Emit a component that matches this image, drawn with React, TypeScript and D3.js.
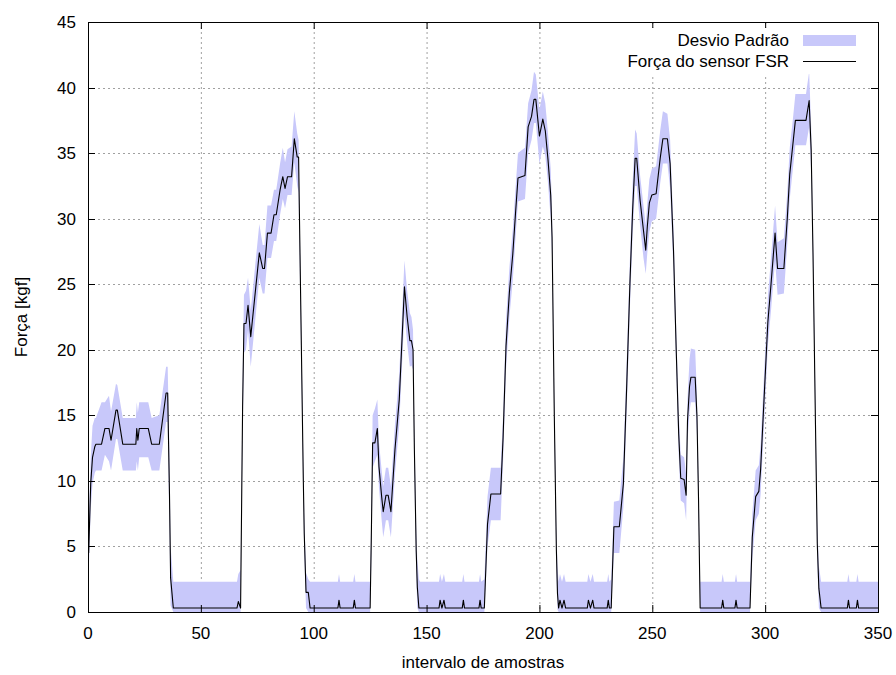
import React from 'react';
import * as d3 from 'd3';

// amostras (x) e força medida pelo sensor FSR, com limites do desvio padrão
const amostra = [
  0.3, 1.2, 2.0, 3.0, 3.5, 6.0, 7.5, 9.3, 10.2, 12.4, 13.0, 15.4, 21.2, 21.6, 22.1, 22.7, 26.7, 28.2, 31.6, 34.6, 35.3, 36.1, 36.6, 37.8,
  66.0, 66.6, 67.6,
  68.5, 69.1, 70.0, 70.9, 72.1, 75.9, 77.4, 78.2, 79.5, 81.1, 82.4, 83.4, 85.1, 86.3, 87.3, 88.4, 90.2, 91.4, 92.7, 93.3, 95.4, 95.8, 96.6, 97.6, 98.4,
  110.7, 111.2, 111.7, 117.5, 118.0, 118.5, 125.0,
  125.5, 126.1, 127.1, 128.2, 128.9, 130.1, 130.8, 132.0, 133.0, 134.2, 136.0, 137.9, 140.2, 141.4, 142.6, 143.3, 144.0, 144.6, 145.4, 145.9, 146.6, 147.1,
  155.5, 156.0, 156.8, 157.7, 158.3, 165.8, 166.3, 166.8, 173.2, 173.7, 174.2, 175.6,
  177.0, 178.5, 182.8, 183.9, 185.2, 186.7, 188.2, 189.4, 190.5, 193.6, 195.0, 196.5, 197.6, 198.4, 200.0, 201.5, 202.6, 203.8, 205.0, 205.6, 206.6, 207.5, 208.0, 208.5,
  209.1, 210.0, 210.9, 211.6, 221.2, 221.7, 222.6, 223.6, 224.2, 230.0, 230.5, 231.0, 231.8,
  233.0, 235.4, 237.2, 238.7, 240.1, 241.3, 242.4, 243.1, 244.6, 246.1, 247.1, 247.8, 248.7, 249.8, 251.7, 253.5, 254.7, 256.7, 257.9, 259.4, 260.6, 261.7, 262.6, 264.1, 265.0, 265.6, 266.5, 267.1, 269.0, 269.8, 270.5, 271.2,
  280.7, 281.2, 281.7, 286.6, 287.1, 287.6, 293.3,
  294.3, 295.8, 297.2, 298.0, 299.7, 301.2, 302.6, 304.4, 305.5, 308.3, 309.8, 310.9, 312.3, 313.4, 318.1, 319.5, 320.4, 321.2, 322.3, 323.1, 323.8, 324.8,
  336.4, 336.9, 337.4, 340.4, 340.9, 341.4, 350.0,
];

const forca = [
  4.5, 9.8, 11.8, 12.6, 12.8, 12.8, 14.0, 14.0, 13.1, 15.4, 15.4, 12.8, 12.8, 14.0, 13.1, 14.0, 14.0, 12.8, 12.8, 16.7, 16.7, 9.0, 2.6, 0.3,
  0.3, 0.8, 0.3,
  15.7, 22.0, 22.0, 23.4, 21.0, 27.4, 26.2, 26.2, 28.9, 28.9, 30.3, 30.3, 32.2, 33.2, 32.3, 33.2, 33.2, 36.1, 34.7, 34.7, 10.0, 6.0, 1.5, 1.5, 0.3,
  0.3, 0.9, 0.3, 0.3, 0.9, 0.3, 0.3,
  5.5, 12.9, 12.9, 14.0, 11.1, 8.8, 7.65, 8.9, 8.9, 7.65, 12.4, 16.2, 24.8, 22.5, 20.7, 20.7, 20.0, 12.4, 4.7, 1.9, 0.3, 0.3,
  0.3, 0.9, 0.3, 0.9, 0.3, 0.3, 0.9, 0.3, 0.3, 0.9, 0.3, 0.3,
  6.7, 9.0, 9.0, 13.3, 20.3, 24.4, 27.3, 30.4, 33.1, 33.3, 37.0, 37.8, 39.1, 39.1, 36.3, 37.6, 36.7, 34.5, 31.8, 28.6, 14.9, 4.8, 1.4, 0.3,
  0.9, 0.3, 0.9, 0.3, 0.3, 0.9, 0.3, 0.9, 0.3, 0.3, 0.9, 0.3, 0.3,
  6.5, 6.5, 9.8, 17.4, 25.1, 30.7, 34.6, 34.6, 31.4, 29.1, 27.6, 29.4, 31.2, 31.8, 31.9, 34.6, 36.1, 36.1, 34.2, 27.6, 20.0, 13.6, 10.2, 10.1, 8.9, 14.6, 17.2, 17.9, 17.9, 14.9, 8.5, 0.3,
  0.3, 0.9, 0.3, 0.3, 0.9, 0.3, 0.3,
  5.7, 8.8, 9.2, 10.9, 16.9, 22.1, 25.0, 28.9, 26.2, 26.2, 30.0, 33.4, 35.7, 37.5, 37.5, 39.0, 35.2, 27.4, 14.3, 5.2, 1.8, 0.3,
  0.3, 0.9, 0.3, 0.3, 0.9, 0.3, 0.3,
];

const desvioMin = [
  3.0, 7.8, 9.8, 10.6, 10.8, 10.8, 12.0, 11.5, 10.8, 13.2, 13.2, 10.8, 10.8, 11.5, 10.8, 11.8, 11.8, 10.8, 10.8, 14.5, 14.5, 6.0, 0.5, 0.0,
  0.0, 0.0, 0.0,
  13.5, 19.8, 20.0, 21.5, 18.7, 25.5, 24.3, 24.3, 27.0, 27.0, 28.3, 28.3, 30.3, 31.5, 30.8, 31.8, 31.8, 34.3, 32.5, 32.0, 8.5, 4.5, 0.3, 0.0, 0.0,
  0.0, 0.0, 0.0, 0.0, 0.0, 0.0, 0.0,
  3.5, 11.0, 11.5, 12.0, 9.5, 7.0, 5.7, 7.0, 7.0, 5.7, 10.5, 14.3, 22.8, 20.5, 18.7, 18.8, 18.5, 10.5, 3.0, 0.3, 0.0, 0.0,
  0.0, 0.0, 0.0, 0.0, 0.0, 0.0, 0.0, 0.0, 0.0, 0.0, 0.0, 0.0,
  5.0, 7.0, 7.0, 11.5, 18.5, 22.5, 25.3, 28.5, 31.3, 31.5, 35.0, 36.0, 37.3, 37.3, 34.2, 35.5, 34.8, 32.7, 30.0, 27.0, 13.5, 3.3, 0.2, 0.0,
  0.0, 0.0, 0.0, 0.0, 0.0, 0.0, 0.0, 0.0, 0.0, 0.0, 0.0, 0.0, 0.0,
  4.5, 4.5, 8.0, 15.5, 23.2, 28.8, 32.5, 32.5, 29.5, 27.0, 25.8, 27.4, 29.0, 29.8, 30.0, 32.7, 34.2, 34.2, 32.3, 26.0, 18.5, 12.0, 8.5, 8.3, 7.0, 13.0, 15.3, 16.0, 16.0, 13.5, 7.0, 0.0,
  0.0, 0.0, 0.0, 0.0, 0.0, 0.0, 0.0,
  4.0, 7.0, 7.5, 9.0, 15.0, 20.3, 23.0, 26.8, 24.2, 24.3, 28.0, 31.5, 33.8, 35.6, 35.6, 37.0, 33.5, 26.0, 13.0, 3.8, 0.3, 0.0,
  0.0, 0.0, 0.0, 0.0, 0.0, 0.0, 0.0,
];

const desvioMax = [
  6.5, 11.8, 14.2, 14.8, 14.8, 16.0, 16.0, 16.5, 15.3, 17.4, 17.3, 14.8, 14.8, 16.0, 15.2, 16.0, 16.0, 14.8, 15.0, 18.7, 18.7, 12.0, 5.0, 2.3,
  2.3, 2.9, 3.2,
  18.0, 24.2, 24.5, 25.5, 23.0, 29.6, 28.0, 28.0, 31.0, 31.0, 32.2, 32.2, 34.2, 35.4, 34.3, 35.3, 35.5, 38.2, 36.5, 36.0, 11.5, 7.5, 3.0, 2.5, 2.3,
  2.3, 2.9, 2.3, 2.3, 2.9, 2.3, 2.3,
  7.5, 15.0, 15.5, 16.2, 13.0, 10.8, 9.6, 11.0, 11.0, 9.6, 14.3, 18.2, 26.8, 24.5, 22.8, 22.5, 21.5, 14.0, 6.5, 4.0, 2.5, 2.3,
  2.3, 2.9, 2.3, 2.9, 2.3, 2.3, 2.9, 2.3, 2.3, 2.9, 2.3, 2.5,
  8.8, 11.0, 11.0, 15.0, 22.3, 26.3, 29.2, 32.3, 35.0, 35.4, 38.8, 39.8, 41.2, 41.0, 38.3, 39.7, 38.8, 36.5, 33.8, 30.5, 16.5, 6.5, 3.5, 2.3,
  2.9, 2.3, 2.9, 2.3, 2.3, 2.9, 2.3, 2.9, 2.3, 2.3, 2.9, 2.3, 2.5,
  8.4, 8.5, 11.8, 19.3, 27.0, 32.8, 36.8, 36.5, 33.3, 31.0, 29.5, 31.2, 33.0, 33.8, 34.0, 36.7, 38.2, 38.0, 36.0, 29.3, 21.5, 15.3, 12.0, 11.8, 10.5, 16.2, 19.3, 20.1, 20.0, 16.5, 10.0, 2.3,
  2.3, 2.9, 2.3, 2.3, 2.9, 2.3, 2.3,
  7.5, 10.8, 11.2, 12.8, 18.8, 24.0, 27.0, 31.0, 28.2, 28.5, 32.0, 35.4, 37.6, 39.5, 39.5, 41.2, 37.0, 29.0, 16.0, 7.0, 3.5, 2.3,
  2.3, 2.9, 2.3, 2.3, 2.9, 2.3, 2.3,
];

const xTicks = [0, 50, 100, 150, 200, 250, 300, 350];
const yTicks = [0, 5, 10, 15, 20, 25, 30, 35, 40, 45];

const W = 896;
const H = 675;
const left = 88, right = 878, top = 22, bottom = 612;
const font = '"Liberation Sans", Arial, sans-serif';

export default function App() {
  const x = d3.scaleLinear().domain([0, 350]).range([left, right]);
  const y = d3.scaleLinear().domain([0, 45]).range([bottom, top]);

  const idx = d3.range(amostra.length);
  const band = d3.area<number>()
    .x(i => x(amostra[i]))
    .y0(i => y(desvioMin[i]))
    .y1(i => y(desvioMax[i]));
  const line = d3.line<number>()
    .x(i => x(amostra[i]))
    .y(i => y(forca[i]));

  const tick = 7;

  return (
    <div style={{ position: 'absolute', left: 0, top: 0 }}>
      <svg width={W} height={H} style={{ display: 'block', background: '#fff' }} fontFamily={font}>
        {/* grid */}
        <g stroke="#a0a0a0" strokeWidth={1} strokeDasharray="2,3">
          {xTicks.slice(1, -1).map(t => (
            <line key={'gx' + t} x1={x(t) + 0.5} x2={x(t) + 0.5} y1={top} y2={bottom} />
          ))}
          {yTicks.slice(1, -1).map(t => (
            <line key={'gy' + t} x1={left} x2={right} y1={Math.round(y(t)) + 0.5} y2={Math.round(y(t)) + 0.5} />
          ))}
        </g>

        <clipPath id="plot">
          <rect x={left} y={top} width={right - left} height={bottom - top} />
        </clipPath>
        <g clipPath="url(#plot)">
          <path d={band(idx) ?? ''} fill="#c8c8fa" stroke="none" />
          <path d={line(idx) ?? ''} fill="none" stroke="#000" strokeWidth={1.1} strokeLinejoin="round" />
        </g>

        {/* border and ticks */}
        <rect x={left + 0.5} y={top + 0.5} width={right - left} height={bottom - top} fill="none" stroke="#000" strokeWidth={1} />
        <g stroke="#000" strokeWidth={1}>
          {xTicks.map(t => (
            <g key={'tx' + t}>
              <line x1={x(t) + 0.5} x2={x(t) + 0.5} y1={bottom} y2={bottom - tick} />
              <line x1={x(t) + 0.5} x2={x(t) + 0.5} y1={top} y2={top + tick} />
            </g>
          ))}
          {yTicks.map(t => (
            <g key={'ty' + t}>
              <line x1={left} x2={left + tick} y1={Math.round(y(t)) + 0.5} y2={Math.round(y(t)) + 0.5} />
              <line x1={right} x2={right - tick} y1={Math.round(y(t)) + 0.5} y2={Math.round(y(t)) + 0.5} />
            </g>
          ))}
        </g>

        {/* tick labels */}
        <g fontSize={17} fill="#000">
          {xTicks.map(t => (
            <text key={'lx' + t} x={x(t)} y={bottom + 27} textAnchor="middle">{t}</text>
          ))}
          {yTicks.map(t => (
            <text key={'ly' + t} x={left - 12} y={y(t) + 6} textAnchor="end">{t}</text>
          ))}
        </g>

        {/* axis titles */}
        <text x={(left + right) / 2} y={668} textAnchor="middle" fontSize={17}>intervalo de amostras</text>
        <text transform={`translate(27,317) rotate(-90)`} textAnchor="middle" fontSize={17}>Força [kgf]</text>

        {/* legend */}
        <rect x={606} y={28} width={262} height={46} fill="#fff" />
        <text x={789} y={46} textAnchor="end" fontSize={17}>Desvio Padrão</text>
        <rect x={803} y={35} width={53} height={11} fill="#c8c8fa" />
        <text x={789} y={67} textAnchor="end" fontSize={17}>Força do sensor FSR</text>
        <line x1={803} x2={856} y1={61.5} y2={61.5} stroke="#000" strokeWidth={1} />
      </svg>
    </div>
  );
}
